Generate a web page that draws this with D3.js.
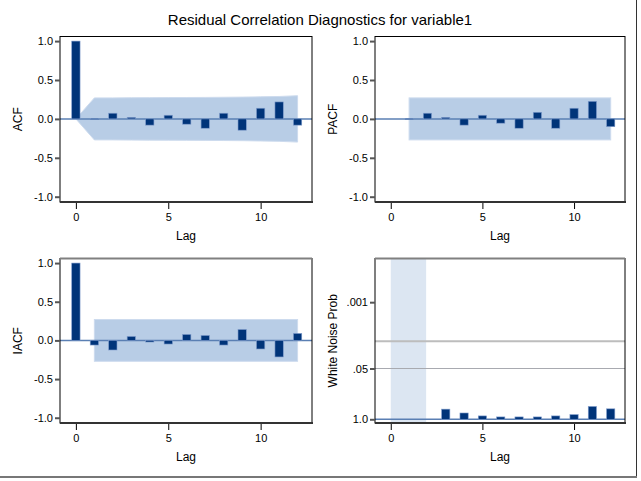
<!DOCTYPE html>
<html>
<head>
<meta charset="utf-8">
<script src="https://cdn.jsdelivr.net/npm/d3@7"></script>
<style>
body { margin: 0; background: #fff; }
svg { font-family: "Liberation Sans", Arial, sans-serif; }
</style>
</head>
<body>
<div id="chart"></div>
<script>
var lags = [0,1,2,3,4,5,6,7,8,9,10,11,12]
var acf  = [1.0,0.005,0.073,0.02,-0.08,0.047,-0.068,-0.12,0.073,-0.145,0.137,0.218,-0.08]
var acfBand = [0,0.27,0.270,0.272,0.273,0.274,0.275,0.276,0.278,0.280,0.284,0.288,0.298]
var pacf = [null,0.005,0.073,0.02,-0.08,0.047,-0.055,-0.12,0.085,-0.12,0.137,0.226,-0.10]
var pacfBand = 0.27
var iacf = [1.0,-0.06,-0.124,0.051,-0.021,-0.047,0.077,0.064,-0.06,0.141,-0.111,-0.214,0.09]
var iacfBand = 0.27
var wnLags = [3,4,5,6,7,8,9,10,11,12]
var wnProb = [0.55,0.69,0.82,0.87,0.87,0.87,0.82,0.76,0.47,0.54]
var wnShade = [0, 1.93]
var wnRefs = [0.01, 0.05]
var corrTicks = [-1.0,-0.5,0.0,0.5,1.0]
var wnTicks = [1.0, 0.05, 0.001]
var wnTickLabels = ["1.0", ".05", ".001"]
var lagTicks = [0,5,10]

var W = 641, H = 481
var barColor = "#003479", barStroke = "#7f9ccc", bandColor = "#b8cde6", zeroColor = "#5a7fb3"

var svg = d3.select("#chart").append("svg")
  .attr("width", W).attr("height", H)

// outer border (right and bottom)
svg.append("line").attr("x1", 636.5).attr("x2", 636.5).attr("y1", 0).attr("y2", 478)
  .style("stroke", "#333").style("stroke-width", 1)
svg.append("line").attr("x1", 0).attr("x2", 637).attr("y1", 477).attr("y2", 477)
  .style("stroke", "#777").style("stroke-width", 2)

svg.append("text")
  .attr("x", 320).attr("y", 25)
  .attr("text-anchor", "middle")
  .style("font-size", "15px")
  .text("Residual Correlation Diagnostics for variable1")

var panels = [
  {name: "ACF",  x0: 60,  x1: 312, y0: 36.5,  y1: 202, ylab: "ACF",  lx: 22,  topColor: "#000"},
  {name: "PACF", x0: 375, x1: 625, y0: 36.5,  y1: 202, ylab: "PACF", lx: 337, topColor: "#000"},
  {name: "IACF", x0: 60,  x1: 312, y0: 258.5, y1: 423, ylab: "IACF", lx: 22,  topColor: "#808080"},
  {name: "WN",   x0: 375, x1: 625, y0: 258.5, y1: 423, ylab: "White Noise Prob", lx: 337, topColor: "#808080"}
]

var fmt1 = d3.format(".1f")

function drawPanel(p) {
  var g = svg.append("g")
  var x = d3.scaleLinear().domain([-0.86, 12.78]).range([p.x0, p.x1])
  var y
  if (p.name == "WN") {
    y = d3.scaleLog().domain([1.245, 7.6e-5]).range([p.y1, p.y0])
  } else {
    y = d3.scaleLinear().domain([-1.068, 1.059]).range([p.y1, p.y0])
  }
  var bw = x(0.45) - x(0)

  if (p.name == "ACF") {
    var area = d3.area()
      .x(function(d, i) { return x(lags[i]) })
      .y0(function(d) { return y(-d) })
      .y1(function(d) { return y(d) })
    g.append("path").datum(acfBand).attr("d", area)
      .style("fill", bandColor).style("stroke", "#cddbee")
  }
  if (p.name == "PACF" || p.name == "IACF") {
    var b = p.name == "PACF" ? pacfBand : iacfBand
    g.append("rect")
      .attr("x", x(1)).attr("width", x(12) - x(1))
      .attr("y", y(b)).attr("height", y(-b) - y(b))
      .style("fill", bandColor).style("stroke", "#cddbee")
  }
  if (p.name == "WN") {
    g.append("rect")
      .attr("x", x(wnShade[0])).attr("width", x(wnShade[1]) - x(wnShade[0]))
      .attr("y", p.y0).attr("height", p.y1 - p.y0)
      .style("fill", "#dce6f2")
    g.append("line").attr("x1", p.x0).attr("x2", p.x1)
      .attr("y1", y(wnRefs[0])).attr("y2", y(wnRefs[0]))
      .style("stroke", "#bdbdbd").style("stroke-width", 2)
    g.append("line").attr("x1", p.x0).attr("x2", p.x1)
      .attr("y1", y(wnRefs[1])).attr("y2", y(wnRefs[1]))
      .style("stroke", "#a8aab0").style("stroke-width", 1)
  }

  // zero / baseline
  var base = p.name == "WN" ? y(1.0) : y(0)
  g.append("line").attr("x1", p.x0).attr("x2", p.x1)
    .attr("y1", base).attr("y2", base)
    .style("stroke", zeroColor).style("stroke-width", 1.5)

  var vals, xs
  if (p.name == "ACF") { vals = acf; xs = lags }
  if (p.name == "PACF") { vals = pacf; xs = lags }
  if (p.name == "IACF") { vals = iacf; xs = lags }
  if (p.name == "WN") { vals = wnProb; xs = wnLags }
  var data = xs.map(function(l, i) { return {lag: l, v: vals[i]} })
    .filter(function(d) { return d.v !== null })

  g.selectAll(".bar").data(data).enter().append("rect")
    .attr("x", function(d) { return x(d.lag) - bw / 2 })
    .attr("width", bw)
    .attr("y", function(d) { return Math.min(y(d.v), base) })
    .attr("height", function(d) { return Math.max(Math.abs(y(d.v) - base), 1) })
    .style("fill", barColor)
    .style("stroke", barStroke).style("stroke-width", 0.6)

  // frame
  g.append("rect").attr("x", p.x0).attr("y", p.y0)
    .attr("width", p.x1 - p.x0).attr("height", p.y1 - p.y0)
    .style("fill", "none").style("stroke", "#000").style("stroke-width", 1)
  g.append("line").attr("x1", p.x0).attr("x2", p.x1).attr("y1", p.y0).attr("y2", p.y0)
    .style("stroke", p.topColor).style("stroke-width", p.topColor == "#000" ? 1 : 2)
  g.append("line").attr("x1", p.x0).attr("x2", p.x1 + 1).attr("y1", p.y1).attr("y2", p.y1)
    .style("stroke", "#333").style("stroke-width", 2)

  // x axis
  var xa = d3.axisBottom(x).tickValues(lagTicks).tickSize(6).tickPadding(4)
    .tickFormat(d3.format("d"))
  var gx = g.append("g").attr("transform", "translate(0," + (p.y1 + 1) + ")").call(xa)
  gx.select(".domain").remove()
  gx.selectAll("text").style("font-size", "11px").style("fill", "#000")

  // y axis
  var ya
  if (p.name == "WN") {
    ya = d3.axisLeft(y).tickValues(wnTicks)
      .tickFormat(function(d, i) { return wnTickLabels[i] })
  } else {
    ya = d3.axisLeft(y).tickValues(corrTicks)
      .tickFormat(function(d) { return fmt1(d).replace("\u2212", "-") })
  }
  ya.tickSize(5).tickPadding(2)
  var gy = g.append("g").attr("transform", "translate(" + p.x0 + ",0)").call(ya)
  gy.select(".domain").remove()
  gy.selectAll("line").style("stroke", "#555").style("stroke-width", 2)
  gy.selectAll("text").style("font-size", "11px").style("fill", "#000")

  g.append("text")
    .attr("x", (p.x0 + p.x1) / 2).attr("y", p.y1 + 38)
    .attr("text-anchor", "middle").style("font-size", "12px")
    .text("Lag")
  g.append("text")
    .attr("transform", "translate(" + p.lx + "," + ((p.y0 + p.y1) / 2) + ") rotate(-90)")
    .attr("text-anchor", "middle").style("font-size", "12px")
    .text(p.ylab)
}

panels.forEach(drawPanel)
</script>
</body>
</html>
